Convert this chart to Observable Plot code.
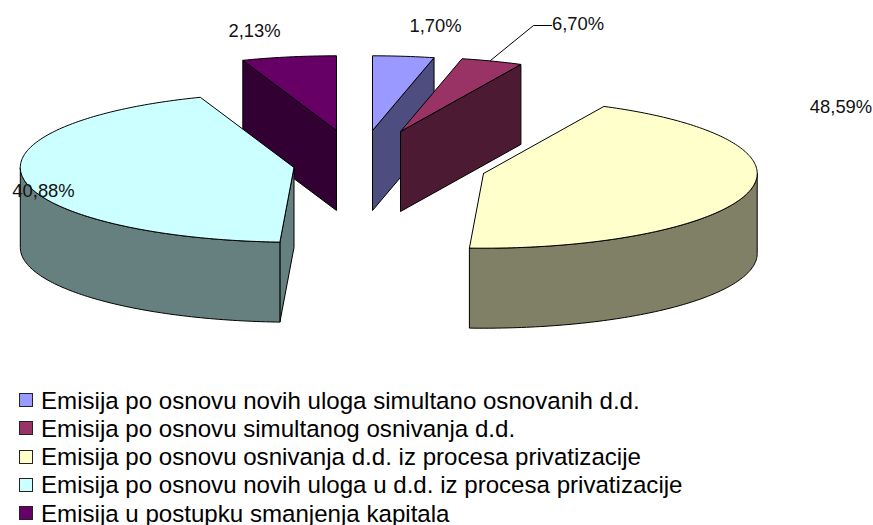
<!DOCTYPE html>
<html>
<head>
<meta charset="utf-8">
<script src="https://cdn.jsdelivr.net/npm/d3@7"></script>
<script src="https://cdn.jsdelivr.net/npm/@observablehq/plot@0.6"></script>
<style>
html,body{margin:0;padding:0;background:#fff}
#chart{position:relative;width:873px;height:525px;overflow:hidden;font-family:"Liberation Sans",Arial,sans-serif}
#chart svg{display:block;position:absolute;left:0;top:0;background:transparent}
.row{position:absolute;left:0;height:20px;white-space:nowrap}
.sw{position:absolute;left:18.5px;top:3px;width:12px;height:12px;border:1px solid #222;box-sizing:content-box}
.tx{position:absolute;left:41px;top:-1.5px;font-size:24.1px;line-height:24px;color:#000}
</style>
</head>
<body>
<div id="chart"></div>
<script>
// Data as drawn: slice names, printed labels, and the share of the circle each slice occupies in the picture
const categories = [
  "Emisija po osnovu novih uloga simultano osnovanih d.d.",
  "Emisija po osnovu simultanog osnivanja d.d.",
  "Emisija po osnovu osnivanja d.d. iz procesa privatizacije",
  "Emisija po osnovu novih uloga u d.d. iz procesa privatizacije",
  "Emisija u postupku smanjenja kapitala"
];
const printedLabels = ["1,70%", "6,70%", "48,59%", "40,88%", "2,13%"];
const drawnShares = [3.61, 3.64, 43.57, 43.62, 5.56];
const topColors = ["#9999FF", "#993366", "#FFFFCC", "#CCFFFF", "#660066"];
const sideColors = ["#4D4D80", "#4D1A33", "#808066", "#668080", "#330033"];

// Layout of the exploded pie, in chart units
const rx = 273.7, ry = 74.7, depth = 80;
const explodedCentres = [[372, 130], [400, 131], [483, 173], [293.5, 167], [336, 130]];
const labelAnchors = [[435, 26], [577.5, 24], [840.5, 107], [43, 191], [254, 31]];
const leader = [{x: 490, y: 60}, {x: 533, y: 25}, {x: 551, y: 25}];
const paintOrder = [4, 0, 1, 3, 2];

const total = d3.sum(drawnShares);
let acc = 0;
const slices = categories.map((name, i) => {
  const a0 = acc / total * 360; acc += drawnShares[i];
  return {i, name, a0, a1: acc / total * 360, c: explodedCentres[i]};
});
const rad = d => d * Math.PI / 180;
const rim = (s, a, dz = 0) => ({x: s.c[0] + rx * Math.sin(rad(a)), y: s.c[1] - ry * Math.cos(rad(a)) + dz});
const sweep = (a, b) => d3.range(a, b, 1).concat([b]);

const polys = [];
let id = 0;
function add(pts, fill) { id++; [...pts, pts[0]].forEach(p => polys.push({...p, id, fill})); }
for (const k of paintOrder) {
  const s = slices[k], side = sideColors[k], apex = {x: s.c[0], y: s.c[1]}, apexLow = {x: s.c[0], y: s.c[1] + depth};
  for (const a of [s.a0, s.a1]) {
    const isStart = a === s.a0;
    const visible = isStart ? Math.sin(rad(a)) < -1e-6 : Math.sin(rad(a)) > 1e-6;
    if (visible) add([apex, rim(s, a), rim(s, a, depth), apexLow], side);
  }
  const lo = Math.max(s.a0, 90), hi = Math.min(s.a1, 270);
  if (hi > lo) {
    const arc = sweep(lo, hi);
    add([...arc.map(a => rim(s, a)), ...arc.slice().reverse().map(a => rim(s, a, depth))], side);
  }
  add([apex, ...sweep(s.a0, s.a1).map(a => rim(s, a))], topColors[k]);
}
const labels = printedLabels.map((t, i) => ({t, x: labelAnchors[i][0], y: labelAnchors[i][1]}));

const plot = Plot.plot({
  width: 873, height: 525,
  margin: 0,
  x: {domain: [0, 873], range: [0, 873], axis: null},
  y: {domain: [0, 525], range: [0, 525], axis: null},
  color: {type: "identity"},
  style: {background: "transparent", fontFamily: '"Liberation Sans", Arial, sans-serif'},
  marks: [
    Plot.line(polys, {x: "x", y: "y", z: "id", fill: "fill", stroke: "#000", strokeWidth: 1, strokeLinejoin: "miter"}),
    Plot.line(leader, {x: "x", y: "y", stroke: "#000", strokeWidth: 1}),
    Plot.text(labels, {x: "x", y: "y", text: "t", fontSize: 18.4, fill: "#111"})
  ]
});
const root = document.getElementById("chart");
root.appendChild(plot);
const rowTops = [390, 418.3, 446.5, 474.8, 503];
categories.forEach((name, i) => {
  const r = document.createElement("div");
  r.className = "row"; r.style.top = rowTops[i] + "px";
  const sw = document.createElement("span"); sw.className = "sw"; sw.style.background = topColors[i];
  const t = document.createElement("span"); t.className = "tx"; t.textContent = name;
  r.append(sw, t); root.appendChild(r);
});
</script>
</body>
</html>
